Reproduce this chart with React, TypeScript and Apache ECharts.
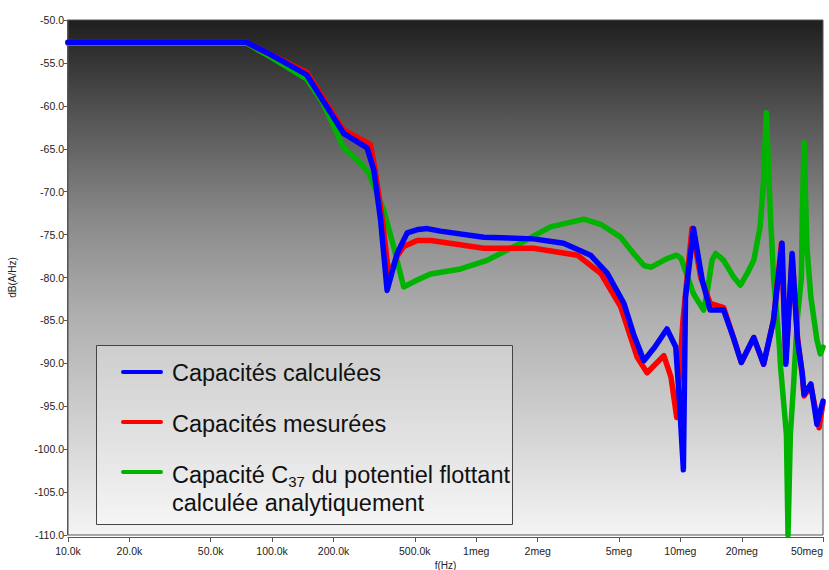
import React, { useEffect, useRef } from "react";
import * as echarts from "echarts";

const xTickFreqs = [1e4, 2e4, 5e4, 1e5, 2e5, 5e5, 1e6, 2e6, 5e6, 1e7, 2e7, 5e7];
const xTickLabels = ["10.0k", "20.0k", "50.0k", "100.0k", "200.0k", "500.0k", "1meg", "2meg", "5meg", "10meg", "20meg", "50meg"];

const legendNames = ["Capacités calculées", "Capacités mesurées", "Capacité C37 du potentiel flottant calculée analytiquement"];

// Capacités calculées (blue)
const blueFreq = [1e4, 75e3, 98e3, 148e3, 224e3, 292e3, 315e3, 340e3, 366e3, 410e3, 459e3, 520e3, 575e3, 668e3, 1.09e6, 1.91e6, 2.68e6, 3.63e6, 4.38e6, 5.29e6, 5.9e6, 6.63e6, 7.5e6, 8.6e6, 9.5e6, 9.9e6, 10.35e6, 10.6e6, 11.6e6, 12.8e6, 14e6, 16.3e6, 18.2e6, 19.9e6, 22.9e6, 25.6e6, 28.6e6, 31.5e6, 32.9e6, 35.3e6, 37.5e6, 39.6e6, 40.4e6, 43.6e6, 46.7e6, 50e6];
const blueDb = [-52.6, -52.6, -54.0, -56.4, -63.2, -64.9, -67.5, -73.3, -81.5, -77.2, -74.8, -74.4, -74.3, -74.6, -75.3, -75.5, -76.0, -77.4, -79.5, -83.0, -86.6, -89.7, -88.1, -86.0, -88.1, -94.4, -102.4, -82.3, -74.3, -80.3, -83.8, -83.8, -87.0, -89.9, -87.0, -90.1, -85.0, -76.0, -90.1, -77.2, -87.3, -91.2, -93.6, -92.4, -97.1, -94.4];

// Capacités mesurées (red)
const redFreq = [1e4, 75e3, 98e3, 148e3, 224e3, 303e3, 320e3, 350e3, 373e3, 410e3, 441e3, 514e3, 600e3, 1.09e6, 1.91e6, 3.13e6, 4.07e6, 5.1e6, 6.15e6, 6.87e6, 8.3e6, 9.0e6, 9.6e6, 10.3e6, 11.4e6, 12.6e6, 14e6, 16.3e6, 18.2e6, 19.9e6, 22.9e6, 25.6e6, 28.6e6, 31.3e6, 32.9e6, 35.3e6, 37.5e6, 39.6e6, 40.4e6, 43.6e6, 47.8e6, 50e6];
const redDb = [-52.6, -52.6, -54.0, -56.1, -62.8, -64.5, -67.5, -74.0, -79.9, -77.5, -76.4, -75.7, -75.7, -76.6, -76.6, -77.4, -79.5, -83.4, -89.3, -91.1, -89.1, -91.6, -96.3, -85.0, -74.3, -80.0, -83.0, -83.5, -87.0, -89.9, -87.0, -90.1, -85.0, -76.0, -89.5, -77.5, -87.0, -91.5, -93.8, -92.6, -97.5, -94.6];

// Capacité C37 calculée analytiquement (green)
const greenFreq = [1e4, 75e3, 98e3, 148e3, 178e3, 224e3, 271e3, 297e3, 352e3, 394e3, 441e3, 514e3, 597e3, 838e3, 1.13e6, 1.59e6, 2.31e6, 3.37e6, 4.07e6, 5.1e6, 5.9e6, 6.63e6, 7.2e6, 8.6e6, 9.6e6, 10.1e6, 11.6e6, 13.0e6, 13.5e6, 14.3e6, 14.9e6, 16.3e6, 18.2e6, 19.7e6, 21.3e6, 22.9e6, 24.6e6, 25.6e6, 26.4e6, 27.7e6, 28.7e6, 30.6e6, 31e6, 33.1e6, 33.7e6, 34.6e6, 35.9e6, 37.5e6, 39.2e6, 39.6e6, 40.4e6, 41.7e6, 43.6e6, 46.7e6, 48.5e6, 50e6];
const greenDb = [-52.7, -52.7, -54.3, -56.9, -59.7, -64.9, -66.7, -67.8, -72.1, -76.4, -81.1, -80.3, -79.6, -79.0, -78.0, -76.2, -74.1, -73.2, -73.8, -75.3, -77.2, -78.6, -78.8, -77.8, -77.4, -77.8, -81.9, -83.8, -81.9, -78.0, -77.2, -78.0, -79.9, -80.9, -79.5, -78.0, -74.1, -68.6, -60.8, -73.3, -80.3, -88.1, -90.5, -98.3, -110.0, -98.3, -92.4, -84.6, -80.0, -72.5, -64.3, -76.4, -82.3, -87.3, -88.9, -88.1];

const toPts = (f: number[], d: number[]) => f.map((v, i) => [Math.log10(v), d[i]]);

const FONT = "'Liberation Sans', Arial, sans-serif";

export default function App() {
  const ref = useRef<HTMLDivElement>(null);
  useEffect(() => {
    if (!ref.current) return;
    const chart = echarts.init(ref.current, null, { renderer: "svg" });
    const tickVals = xTickFreqs.map((f) => Math.log10(f));
    const legendFont = 23.5;
    chart.setOption({
      animation: false,
      backgroundColor: "#ffffff",
      grid: {
        left: 68,
        right: 6,
        top: 20,
        bottom: 35,
        outerBoundsMode: "none",
        containLabel: false,
        show: true,
        borderColor: "#555",
        borderWidth: 1,
        backgroundColor: {
          type: "linear",
          x: 0,
          y: 0,
          x2: 0,
          y2: 1,
          colorStops: [
            { offset: 0, color: "#1e1e1e" },
            { offset: 0.19, color: "#555555" },
            { offset: 0.39, color: "#8a8a8a" },
            { offset: 0.58, color: "#b0b0b0" },
            { offset: 0.78, color: "#d0d0d0" },
            { offset: 1, color: "#f4f4f4" },
          ],
        },
      },
      xAxis: {
        type: "value",
        min: 4,
        max: Math.log10(5e7),
        offset: 2,
        name: "f(Hz)",
        nameLocation: "middle",
        nameGap: 19,
        nameTextStyle: { fontFamily: FONT, fontSize: 10, lineHeight: 10, color: "#222" },
        axisLine: { show: true, lineStyle: { color: "#555", width: 1 } },
        axisTick: { show: true, length: 5, customValues: tickVals, lineStyle: { color: "#555" } },
        axisLabel: {
          customValues: tickVals,
          margin: 8,
          fontFamily: FONT,
          fontSize: 10.5,
          color: "#222",
          hideOverlap: false,
          alignMaxLabel: "right",
          formatter: (v: number) => {
            const i = tickVals.findIndex((t) => Math.abs(t - v) < 1e-6);
            return i >= 0 ? xTickLabels[i] : "";
          },
        },
        splitLine: { show: false },
      },
      yAxis: {
        type: "value",
        min: -110,
        max: -50,
        interval: 5,
        offset: 1,
        name: "dB(A/Hz)",
        nameLocation: "middle",
        nameRotate: 90,
        nameGap: 50,
        nameTextStyle: { fontFamily: FONT, fontSize: 10, color: "#222" },
        axisLine: { show: true, lineStyle: { color: "#555", width: 1 } },
        axisTick: { show: true, length: 3, lineStyle: { color: "#555" } },
        axisLabel: {
          margin: 3,
          fontFamily: FONT,
          fontSize: 10.5,
          color: "#222",
          formatter: (v: number) => v.toFixed(1),
        },
        splitLine: { show: false },
      },
      series: [
        {
          name: legendNames[2],
          type: "line",
          data: toPts(greenFreq, greenDb),
          showSymbol: false,
          lineStyle: { color: "#00b300", width: 5.5, join: "round", cap: "round" },
          itemStyle: { color: "#00b300" },
        },
        {
          name: legendNames[1],
          type: "line",
          data: toPts(redFreq, redDb),
          showSymbol: false,
          lineStyle: { color: "#ff0000", width: 5.5, join: "round", cap: "round" },
          itemStyle: { color: "#ff0000" },
        },
        {
          name: legendNames[0],
          type: "line",
          data: toPts(blueFreq, blueDb),
          showSymbol: false,
          lineStyle: { color: "#0000ff", width: 5.5, join: "round", cap: "round" },
          itemStyle: { color: "#0000ff" },
        },
      ],
      graphic: [
        {
          type: "rect",
          z: 100,
          shape: { x: 96.5, y: 345.5, width: 416, height: 179 },
          style: { fill: "rgba(255,255,255,0.3)", stroke: "#444", lineWidth: 1 },
        },
        {
          type: "line",
          z: 101,
          shape: { x1: 123, y1: 372, x2: 161, y2: 372 },
          style: { stroke: "#0000ff", lineWidth: 4, lineCap: "round" },
        },
        {
          type: "line",
          z: 101,
          shape: { x1: 123, y1: 422, x2: 161, y2: 422 },
          style: { stroke: "#ff0000", lineWidth: 4, lineCap: "round" },
        },
        {
          type: "line",
          z: 101,
          shape: { x1: 123, y1: 472, x2: 161, y2: 472 },
          style: { stroke: "#00b300", lineWidth: 4, lineCap: "round" },
        },
        {
          type: "text",
          z: 101,
          x: 172,
          y: 373,
          style: { text: legendNames[0], fontFamily: FONT, fontSize: legendFont, fill: "#111", verticalAlign: "middle", align: "left" },
        },
        {
          type: "text",
          z: 101,
          x: 172,
          y: 424,
          style: { text: legendNames[1], fontFamily: FONT, fontSize: legendFont, fill: "#111", verticalAlign: "middle", align: "left" },
        },
        {
          type: "text",
          z: 101,
          x: 172,
          y: 475,
          style: {
            text: "{m|Capacité C}{s|37}{m| du potentiel flottant}",
            fontFamily: FONT,
            fontSize: legendFont,
            fill: "#111",
            verticalAlign: "middle",
            align: "left",
            rich: {
              m: { fontFamily: FONT, fontSize: legendFont, lineHeight: 27, fill: "#111" },
              s: { fontFamily: FONT, fontSize: 15, lineHeight: 13, verticalAlign: "bottom", fill: "#111" },
            },
          },
        },
        {
          type: "text",
          z: 101,
          x: 172,
          y: 503,
          style: { text: "calculée analytiquement", fontFamily: FONT, fontSize: legendFont, lineHeight: 27, fill: "#111", verticalAlign: "middle", align: "left" },
        },
      ],
    });
    return () => chart.dispose();
  }, []);
  return <div ref={ref} style={{ width: 829, height: 570, position: "absolute", left: 0, top: 0 }} />;
}
